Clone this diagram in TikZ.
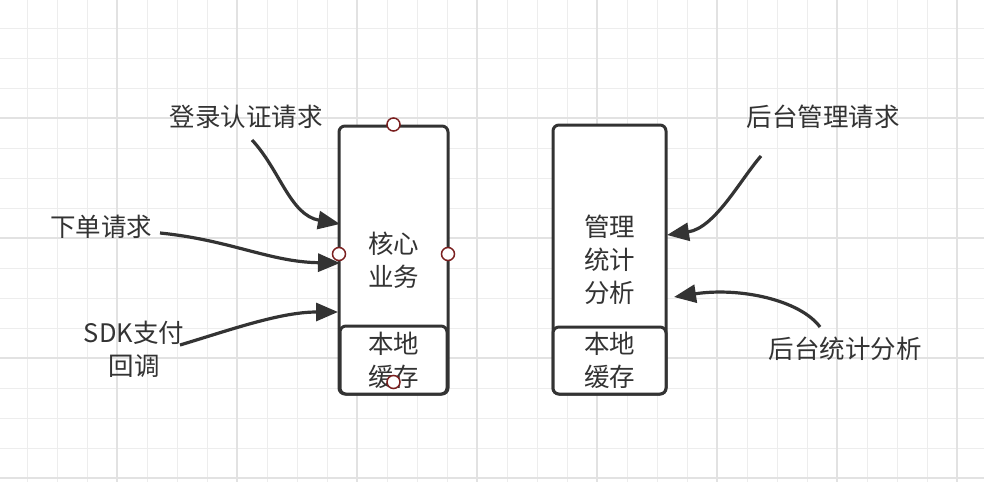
\documentclass[tikz,border=0pt]{standalone}
\usepackage{fontspec}
\setmainfont{Noto Sans CJK SC}
\usetikzlibrary{arrows.meta}
\definecolor{ink}{HTML}{333333}
\definecolor{gridminor}{HTML}{EDEDED}
\definecolor{gridmajor}{HTML}{E2E2E2}
\definecolor{portred}{HTML}{7A1F1F}
\tikzset{
  txt/.style={font={\fontsize{25.5}{33}\selectfont}, text=ink, align=center, inner sep=0pt},
  boxshape/.style={draw=ink, line width=3pt, rounded corners=6pt, fill=white, txt},
  port/.style={circle, draw=portred, fill=white, line width=1.5pt, minimum size=13pt, inner sep=0pt},
  flow/.style={draw=ink, line width=3.2pt, -{Triangle[length=22pt,width=18pt]}},
}
\begin{document}
\begin{tikzpicture}[x=1pt,y=-1pt]
\useasboundingbox (0,0) rectangle (984,482);
\fill[white] (0,0) rectangle (984,482);
% grid
\foreach \gx in {27,57,...,987} {\draw[gridminor, line width=1pt] (\gx,0) -- (\gx,482);}
\foreach \gy in {28,58,...,478} {\draw[gridminor, line width=1pt] (0,\gy) -- (984,\gy);}
\foreach \gx in {117,237,...,957} {\draw[gridmajor, line width=2pt] (\gx,0) -- (\gx,482);}
\foreach \gy in {118,238,358,478} {\draw[gridmajor, line width=2pt] (0,\gy) -- (984,\gy);}

% left component
\node[boxshape, minimum width=109pt, minimum height=268pt] (core) at (393.5,260) {核心\\业务};
\node[boxshape, minimum width=107pt, minimum height=68pt] (cacheL) at (393.5,360) {本地\\缓存};
% right component
\node[boxshape, minimum width=113pt, minimum height=269pt] (mgmt) at (609.5,259.5) {管理\\统计\\分析};
\node[boxshape, minimum width=113pt, minimum height=67pt] (cacheR) at (609.5,360.5) {本地\\缓存};

% labels
\node[txt] (login) at (246,117) {登录认证请求};
\node[txt] (order) at (101,227) {下单请求};
\node[txt] (sdk) at (134,349) {SDK支付\\回调};
\node[txt] (admin) at (823,117) {后台管理请求};
\node[txt] (stat) at (845,349) {后台统计分析};

% connector ends
\coordinate (s1) at (252,140);
\coordinate (e1) at (340,224);
\coordinate (s2) at (160,233);
\coordinate (e2) at (340,263);
\coordinate (s3) at (180,345);
\coordinate (e3) at (338,312);
\coordinate (s4) at (761,156);
\coordinate (e4) at (667,235);
\coordinate (s5) at (820,327);
\coordinate (e5) at (674,297);

\draw[flow] (s1) .. controls (280,170) and (290,215) .. (e1);
\draw[flow] (s2) .. controls (230,240) and (270,262) .. (e2);
\draw[flow] (s3) .. controls (230,330) and (280,312) .. (e3);
\draw[flow] (s4) .. controls (740,180) and (715,228) .. (e4);
\draw[flow] (s5) .. controls (800,300) and (740,287) .. (e5);

% ports (drawn on top)
\node[port] (pN) at (core.north) {};
\node[port] (pW) at (339,254) {};
\node[port] (pE) at (448,254) {};
\node[port] (pS) at (393.5,382) {};
\end{tikzpicture}
\end{document}
